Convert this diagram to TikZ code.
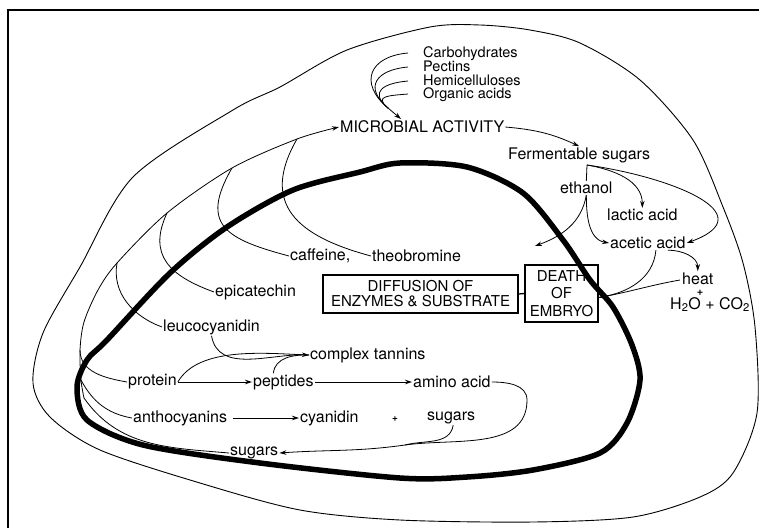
\documentclass[tikz,border=0pt]{standalone}
\usepackage{fontspec}
\setmainfont{TeX Gyre Heros}
\usetikzlibrary{arrows.meta}

\begin{document}
\begin{tikzpicture}[x=1pt, y=1pt,
    >={Stealth[length=7pt,width=4.5pt]},
    lbl/.style={font=\fontsize{16}{18}\selectfont, inner sep=1pt, anchor=west},
    srclbl/.style={font=\fontsize{14.5}{14}\selectfont, inner sep=0pt, anchor=base west},
    boxnode/.style={draw, line width=1.3pt, align=center, inner sep=1pt, font=\fontsize{15}{15}\selectfont},
    wire/.style={line width=0.8pt},
    coat/.style={line width=0.9pt},
    bean/.style={line width=5.5pt, line join=round}]
  \useasboundingbox (0,0) rectangle (759,-528);
  \draw[line width=1.3pt] (759,-10) -- (8,-10) -- (8,-528);

  % seed coat and cotyledons
  \draw[coat] plot[smooth cycle] coordinates {(430,-27) (480,-25) (530,-30) (580,-43) (640,-80) (693,-140) (723,-207) (743,-263) (755,-327) (757,-413) (733,-473) (700,-497) (633,-517) (533,-522) (400,-520) (300,-510) (200,-483) (100,-450) (50,-417) (33,-383) (43,-333) (80,-267) (133,-177) (233,-110) (280,-87) (347,-50)};
  \draw[bean] plot[smooth cycle] coordinates {(400,-163) (467,-167) (523,-193) (563,-240) (590,-280) (613,-307) (632,-345) (640,-380) (627,-423) (600,-453) (533,-470) (467,-477) (400,-478) (260,-463) (143,-445) (87,-420) (77,-387) (87,-360) (107,-340) (170,-273) (227,-227) (293,-190) (360,-172)};

  \node[srclbl] (carb) at (423,-57) {Carbohydrates};
  \node[srclbl] (pect) at (423,-71) {Pectins};
  \node[srclbl] (hemi) at (423,-85) {Hemicelluloses};
  \node[srclbl] (orga) at (423,-98) {Organic acids};
  \node[lbl] (micro) at (339,-127) {MICROBIAL ACTIVITY};
  \node[lbl] (ferm) at (507,-155) {Fermentable sugars};
  \node[lbl] (eth) at (559,-188) {ethanol};
  \node[lbl] (lactic) at (606,-215) {lactic acid};
  \node[lbl] (acetic) at (609,-243) {acetic acid};
  \node[lbl, anchor=base west, inner sep=0pt] (heat) at (682,-284) {heat};
  \node[font=\fontsize{11}{11}\selectfont\bfseries, inner sep=0pt] (hplus) at (700,-293) {+};
  \node[lbl, anchor=base west, inner sep=0pt] (gas) at (670,-309) {H\textsubscript{2}O + CO\textsubscript{2}};
  \node[lbl] (caf) at (289,-256) {caffeine,};
  \node[lbl] (theo) at (371,-256) {theobromine};
  \node[lbl] (epi) at (214,-292) {epicatechin};
  \node[lbl] (leuco) at (162,-327) {leucocyanidin};
  \node[lbl] (tann) at (309,-355) {complex tannins};
  \node[lbl] (prot) at (127,-382) {protein};
  \node[lbl] (pept) at (252,-382) {peptides};
  \node[lbl] (amino) at (412,-382) {amino acid};
  \node[lbl] (antho) at (132,-418) {anthocyanins};
  \node[lbl] (cyan) at (299,-418) {cyanidin};
  \node[font=\fontsize{10}{10}\selectfont\bfseries, inner sep=0pt] (cplus) at (395,-419) {+};
  \node[lbl] (sugr) at (426,-418) {sugars};
  \node[lbl] (sugb) at (229,-453) {sugars};
  \node[boxnode, minimum width=195pt, minimum height=38pt] (diff) at (420.5,-294) {DIFFUSION OF\\ENZYMES \& SUBSTRATE};
  \node[boxnode, minimum width=73pt, minimum height=57pt, font=\fontsize{15}{17.5}\selectfont] (death) at (561.5,-293.5) {DEATH\\OF\\EMBRYO};

  \coordinate (mrg) at (388,-108);
  \coordinate (mtip) at (401,-119);
  \coordinate (fs) at (587,-165);
  \coordinate (dl) at (535,-246);
  \coordinate (abend) at (527,-400);
  \coordinate (ajoin) at (405,-445);
  % where the side branches meet the left path
  \coordinate (jsug) at (84,-398);
  \coordinate (jant) at (81,-380);
  \coordinate (jpro) at (80,-350);
  \coordinate (jleu) at (117,-263);
  \coordinate (jepi) at (167,-213);
  \coordinate (jcaf) at (232,-168);
  \coordinate (jthe) at (297,-139);

  % substrates to microbial activity
  \draw[wire] ([xshift=-15pt,yshift=4pt]carb.base west) to[out=185, in=140, looseness=1.7] (mrg);
  \draw[wire] ([xshift=-15pt,yshift=4pt]pect.base west) to[out=185, in=140, looseness=1.8] (mrg);
  \draw[wire] ([xshift=-15pt,yshift=4pt]hemi.base west) to[out=185, in=140, looseness=1.9] (mrg);
  \draw[wire] ([xshift=-15pt,yshift=4pt]orga.base west) to[out=185, in=140, looseness=2] (mrg);
  \draw[wire, ->] (mrg) -- (mtip);
  \draw[wire, ->] plot[smooth] coordinates {(jsug) (jant) (jpro) (84,-322) (98,-290) (jleu) (jepi) (jcaf) (jthe) (micro.west)};
  \draw[wire] (theo.west) to[out=165, in=-120, looseness=1.4] (jthe);
  \draw[wire] (caf.west) to[out=165, in=-120, looseness=1.6] (jcaf);
  \draw[wire] (epi.west) to[out=160, in=-115, looseness=1.3] (jepi);
  \draw[wire] (leuco.west) to[out=160, in=-100] (jleu);
  \draw[wire] (prot.west) to[out=170, in=-90] (jpro);
  \draw[wire] (antho.west) to[out=170, in=-62] (jant);
  \draw[wire] (sugb.west) to[out=175, in=-55] (jsug);

  % fermentation
  \draw[wire, ->] (micro.east) to[out=-5, in=155] (ferm.north);
  \draw[wire] (fs) -- (eth.north);
  \draw[wire, ->] (eth.south) to[out=-100, in=20] (dl);
  \draw[wire, ->] (eth.south) to[out=-90, in=170] (acetic.west);
  \draw[wire, ->] (fs) to[out=-10, in=90] (lactic.north);
  \draw[wire, ->] (fs) to[out=-8, in=20, looseness=1.7] (acetic.east);
  \draw[wire, ->] ([xshift=20pt]acetic.south) to[out=0, in=90] ([yshift=1pt]heat.north);
  \draw[wire, ->] ([xshift=8pt]acetic.south) to[out=-95, in=10] ([yshift=-4pt]death.east);
  \draw[wire] ([xshift=-2pt,yshift=4pt]heat.base west) to[out=190, in=10] ([yshift=-4pt]death.east);
  \draw[line width=1.3pt] (diff.east) -- (death.west);

  % inside the cotyledon
  \draw[wire, ->] (leuco.south) to[out=-80, in=178] (tann.west);
  \draw[wire] (prot.east) to[out=60, in=178, looseness=0.8] (tann.west);
  \draw[wire] ([xshift=-10pt]pept.north) to[out=85, in=178] (tann.west);
  \draw[wire, ->] (prot.east) -- (pept.west);
  \draw[wire, ->] (pept.east) -- (amino.west);
  \draw[wire, ->] ([xshift=5pt]antho.east) -- (cyan.west);
  \draw[wire, ->] (amino.east) to[out=0, in=90] (abend) to[out=-90, in=8] (ajoin) to[out=188, in=4] (sugb.east);
  \draw[wire] ([xshift=2pt]sugr.south) to[out=-100, in=15] (ajoin);
\end{tikzpicture}
\end{document}
